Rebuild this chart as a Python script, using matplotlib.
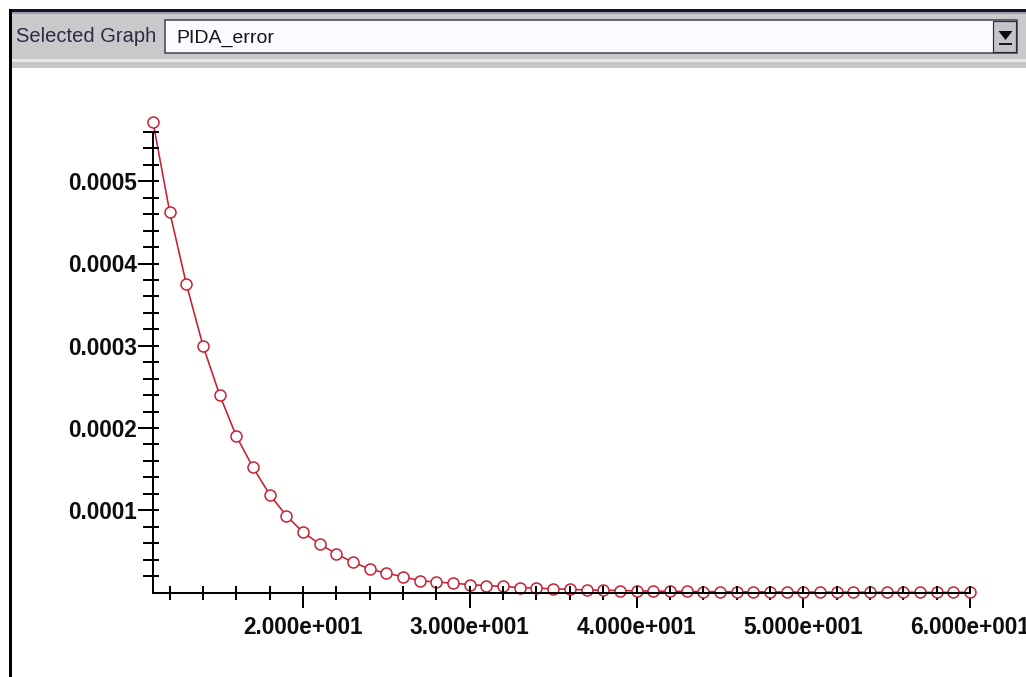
import matplotlib
matplotlib.use("Agg")
import matplotlib.pyplot as plt
from matplotlib.patches import Rectangle, Polygon
from matplotlib.transforms import ScaledTranslation

# ---- data -------------------------------------------------------------
iterations = list(range(11, 61))
pida_error = [
    0.000572, 0.000463, 0.000375, 0.000300, 0.000240, 0.000190, 0.000152,
    0.000119, 0.0000934, 0.0000732, 0.0000590, 0.0000468, 0.0000367,
    0.0000286, 0.0000233, 0.0000192, 0.0000143, 0.0000128, 0.0000112,
    0.0000097, 0.0000083, 0.0000075, 0.0000058, 0.0000055, 0.0000043,
    0.0000040, 0.0000030, 0.0000028, 0.0000024, 0.0000020, 0.0000017,
    0.0000015, 0.0000013, 0.0000011, 0.0000010, 0.0000009, 0.0000008,
    0.0000007, 0.0000006, 0.0000005, 0.0000005, 0.0000004, 0.0000004,
    0.0000003, 0.0000003, 0.0000003, 0.0000002, 0.0000002, 0.0000002,
    0.0000002,
]
x_major = [20, 30, 40, 50, 60]
x_major_labels = ["2.000e+001", "3.000e+001", "4.000e+001", "5.000e+001", "6.000e+001"]
y_major = [0.0001, 0.0002, 0.0003, 0.0004, 0.0005]
y_major_labels = ["0.0001", "0.0002", "0.0003", "0.0004", "0.0005"]
selector_caption = "Selected Graph"
selected_name = "PIDA_error"

x_limits = (11, 60)
y_limits = (0.0, 0.00056)
x_minor = [v for v in range(12, 60, 2) if v % 10]
y_minor = [k * 0.00002 for k in range(1, 29) if k % 5]

# ---- figure -----------------------------------------------------------
W, H = 1026, 677
DPI = 100
fig = plt.figure(figsize=(W / DPI, H / DPI), dpi=DPI, facecolor="white")
PT = 72.0 / DPI  # points per pixel


def fx(x):
    return x / W


def fy(y):
    return 1 - y / H


def box(x0, y0, x1, y1, color, **kw):
    fig.add_artist(Rectangle((fx(x0), fy(y1)), fx(x1) - fx(x0), fy(y0) - fy(y1),
                             transform=fig.transFigure, facecolor=color,
                             edgecolor=kw.pop("edgecolor", "none"), **kw))


# window chrome: frame, selector panel, combo box
box(11, 12, W, 61, "#c9c9cb")
box(9, 9, W, 12, "#15151f")
box(11, 12, W, 13.5, "#9d9db2")
box(11, 59, W, 62, "#e6e6e8")
box(11, 62, W, 68, "#c6c6c8")
box(9, 9, 11.5, H, "#000000")

box(165, 19.5, 1017, 52.5, "#fbfbff", edgecolor="#3c3c50", linewidth=1.5 * PT)
box(993, 21, 1016, 51.5, "#c4c4cc", edgecolor="#2c2c38", linewidth=1.2 * PT)
fig.add_artist(Polygon([(fx(998.5), fy(31)), (fx(1012.5), fy(31)), (fx(1005.5), fy(40))],
                       closed=True, transform=fig.transFigure,
                       facecolor="#0a0a0a", edgecolor="none"))
box(999, 43, 1012, 45, "#1a1a1a")

fig.text(fx(16), fy(34), selector_caption, ha="left", va="center_baseline",
         fontsize=14.5, family="Liberation Sans", color="#2b2b45")
fig.text(fx(176), fy(36.5), selected_name, ha="left", va="center_baseline",
         fontsize=14, family="Liberation Sans", color="#151515")

# ---- chart ------------------------------------------------------------
ax_left, ax_right = 153, 970
ax_top, ax_bottom = 131.9, 592.5
rect = [fx(ax_left), fy(ax_bottom), fx(ax_right) - fx(ax_left), fy(ax_top) - fy(ax_bottom)]

ax = fig.add_axes(rect)
ax.set_facecolor("none")
ax.set_xlim(*x_limits)
ax.set_ylim(*y_limits)
for side in ("top", "right"):
    ax.spines[side].set_visible(False)
for side in ("left", "bottom"):
    ax.spines[side].set_linewidth(2 * PT)
    ax.spines[side].set_color("black")

ax.plot(iterations, pida_error, color="#c81e32", linewidth=1.6 * PT,
        marker="o", markersize=11 * PT, markerfacecolor="white",
        markeredgecolor="#c81e32", markeredgewidth=1.5 * PT, clip_on=False)

ax.set_xticks(x_major)
ax.set_xticklabels(x_major_labels)
ax.set_xticks(x_minor, minor=True)
ax.set_yticks(y_major)
ax.set_yticklabels(y_major_labels)
ax.set_yticks(y_minor, minor=True)

shift_right = ScaledTranslation(3 / DPI, 0, fig.dpi_scale_trans)
for lab in ax.get_xticklabels() + ax.get_yticklabels():
    lab.set_fontfamily("Liberation Sans")
    lab.set_fontweight("bold")
    lab.set_fontsize(16.3)
    lab.set_color("#0d0d0d")
for lab in ax.get_xticklabels():
    lab.set_transform(lab.get_transform() + shift_right)

ax.tick_params(axis="x", which="major", direction="out", length=15 * PT,
               width=2 * PT, pad=6)
ax.tick_params(axis="x", which="minor", direction="out", length=7 * PT,
               width=2 * PT)
ax.tick_params(axis="y", which="major", direction="out", length=15 * PT,
               width=2 * PT, pad=0.5)
ax.tick_params(axis="y", which="minor", direction="out", length=10 * PT,
               width=2 * PT)

# inward halves of the tick marks, drawn above the markers
ax_in = fig.add_axes(rect, frameon=False)
ax_in.patch.set_visible(False)
ax_in.set_xlim(*x_limits)
ax_in.set_ylim(*y_limits)
ax_in.set_xticks(x_major)
ax_in.set_xticks(x_minor, minor=True)
ax_in.set_yticks(y_major)
ax_in.set_yticks(y_minor, minor=True)
ax_in.tick_params(axis="x", which="both", direction="in", length=7 * PT,
                  width=2 * PT, labelbottom=False, top=False)
ax_in.tick_params(axis="y", which="both", direction="in", length=6 * PT,
                  width=2 * PT, labelleft=False, right=False)

fig.savefig("out.png", dpi=DPI, facecolor="white")
